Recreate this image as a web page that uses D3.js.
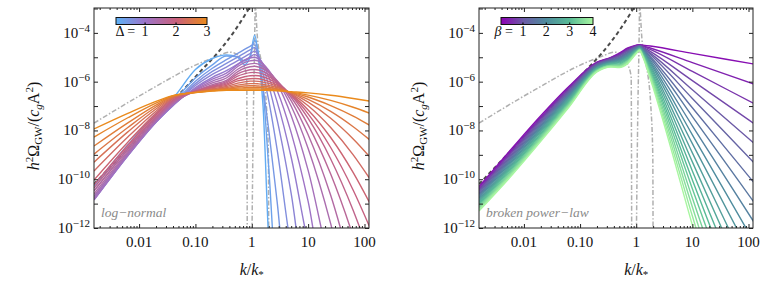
<!DOCTYPE html>
<html><head><meta charset="utf-8">
<script src="https://cdn.jsdelivr.net/npm/d3@7"></script>
<style>body{margin:0;background:#fff} svg{display:block} svg text{font-family:"Liberation Serif","Times New Roman",Times,"DejaVu Serif",serif}</style>
</head><body><svg id="c" width="763" height="288" font-family="Liberation Serif, Times New Roman, serif"></svg>
<script>
// ---------- data (log10 values) ----------
const xDomainLog = [-2.8, 2.08];
const yDomainLog = [-12, -2.98];
const xTickValues = [0.01, 0.1, 1, 10, 100];
const xTickLabels = ["0.01", "0.10", "1", "10", "100"];
const yTickExps = [-12, -10, -8, -6, -4];

// log-normal panel: Delta values and log10 Omega at shared log10 k grid
const deltaValues = [0.15,0.3,0.45,0.6,0.75,0.9,1.05,1.2,1.35,1.5,1.65,1.8,1.95,2.1,2.25,2.4,2.55,2.7,2.85,3.0];
const kGridLN = [-2.8,-2.2,-1.7,-1.37,-1.0,-0.7,-0.45,-0.25,-0.13,-0.03,0.05,0.12,0.2,0.3,0.45,0.7,1.0,1.4,1.8,2.1];
const logNormalCurves = [
 [-10.28,-8.59,-7.30,-6.6,-5.5,-5.05,-4.9,-5.0,-5.3,-5.0,-4.1,-5.0,-7.0,-12.5,-16,-16,-16,-16,-16,-16],
 [-10.48,-8.76,-7.46,-6.75,-5.85,-5.31,-4.95,-4.98,-5.15,-4.95,-4.3,-4.85,-6.3,-9.5,-14.5,-16,-16,-16,-16,-16],
 [-10.69,-8.92,-7.58,-6.85,-5.98,-5.45,-5.1,-4.84,-4.68,-4.55,-4.45,-5.12,-6.26,-7.97,-10.93,-16,-16,-16,-16,-16],
 [-10.77,-8.99,-7.64,-6.9,-6.08,-5.58,-5.25,-4.99,-4.83,-4.70,-4.6,-4.97,-5.66,-6.77,-8.79,-12.88,-16,-16,-16,-16],
 [-10.83,-9.03,-7.66,-6.92,-6.16,-5.70,-5.4,-5.14,-4.98,-4.85,-4.75,-4.96,-5.40,-6.15,-7.57,-10.60,-15.1,-16,-16,-16],
 [-10.85,-9.04,-7.67,-6.92,-6.24,-5.82,-5.55,-5.28,-5.12,-4.99,-4.88,-5.0,-5.29,-5.80,-6.83,-9.11,-12.64,-16,-16,-16],
 [-10.85,-9.03,-7.65,-6.9,-6.28,-5.90,-5.65,-5.30,-5.12,-5.03,-5.0,-5.07,-5.26,-5.61,-6.36,-8.10,-10.91,-15.7,-16,-16],
 [-10.8,-8.99,-7.62,-6.88,-6.32,-5.98,-5.75,-5.38,-5.22,-5.15,-5.12,-5.16,-5.28,-5.53,-6.07,-7.40,-9.64,-13.62,-16,-16],
 [-10.7,-8.93,-7.58,-6.85,-6.35,-6.05,-5.85,-5.49,-5.34,-5.27,-5.25,-5.28,-5.38,-5.57,-5.99,-7.01,-8.74,-11.82,-15.7,-16],
 [-10.6,-8.86,-7.54,-6.82,-6.39,-6.12,-5.95,-5.59,-5.45,-5.39,-5.37,-5.40,-5.47,-5.62,-5.96,-6.79,-8.18,-10.66,-13.82,-16],
 [-10.48,-8.78,-7.48,-6.78,-6.39,-6.16,-6.0,-5.68,-5.57,-5.51,-5.5,-5.52,-5.58,-5.71,-5.98,-6.65,-7.78,-9.79,-12.35,-14.6],
 [-10.36,-8.69,-7.43,-6.74,-6.40,-6.19,-6.05,-5.77,-5.68,-5.63,-5.62,-5.64,-5.69,-5.79,-6.02,-6.57,-7.51,-9.17,-11.28,-13.15],
 [-10.24,-8.61,-7.37,-6.7,-6.4,-6.22,-6.1,-5.88,-5.80,-5.76,-5.75,-5.76,-5.81,-5.89,-6.08,-6.54,-7.32,-8.70,-10.45,-12.0],
 [-10.03,-8.48,-7.30,-6.66,-6.41,-6.25,-6.15,-5.97,-5.91,-5.88,-5.87,-5.88,-5.92,-5.99,-6.14,-6.52,-7.16,-8.29,-9.73,-11.0],
 [-9.66,-8.27,-7.21,-6.63,-6.42,-6.29,-6.2,-6.06,-6.01,-5.98,-5.98,-5.99,-6.02,-6.07,-6.19,-6.49,-6.99,-7.88,-9.0,-10.0],
 [-9.3,-8.06,-7.12,-6.61,-6.43,-6.32,-6.25,-6.14,-6.10,-6.08,-6.08,-6.09,-6.11,-6.15,-6.24,-6.46,-6.84,-7.50,-8.35,-9.1],
 [-8.97,-7.88,-7.04,-6.59,-6.44,-6.34,-6.28,-6.21,-6.18,-6.17,-6.17,-6.18,-6.19,-6.22,-6.29,-6.45,-6.73,-7.22,-7.85,-8.4],
 [-8.64,-7.69,-6.96,-6.57,-6.44,-6.35,-6.3,-6.26,-6.25,-6.24,-6.24,-6.24,-6.25,-6.28,-6.32,-6.44,-6.63,-6.98,-7.41,-7.8],
 [-8.27,-7.48,-6.88,-6.56,-6.45,-6.37,-6.33,-6.31,-6.30,-6.30,-6.30,-6.30,-6.31,-6.32,-6.35,-6.43,-6.55,-6.77,-7.05,-7.3],
 [-7.94,-7.30,-6.81,-6.55,-6.45,-6.39,-6.35,-6.35,-6.35,-6.35,-6.35,-6.35,-6.35,-6.36,-6.37,-6.41,-6.46,-6.56,-6.69,-6.8]
];

// broken power-law panel
const betaValues = [0.2,0.4,0.6,0.8,1.0,1.2,1.4,1.6,1.8,2.0,2.2,2.4,2.6,2.8,3.0,3.2,3.4,3.6,3.8,4.0];
const kGridBPL = [-2.8,-2.2,-1.7,-1.2,-0.7,-0.45,-0.3,-0.15,0,0.06,0.12,0.25,1.0,2.1];
const brokenPLCurves = [
 [-10.30,-8.70,-7.40,-6.20,-5.20,-5.00,-4.83,-4.62,-4.50,-4.48,-4.50,-4.54,-4.84,-5.28],
 [-10.35,-8.76,-7.46,-6.24,-5.22,-5.02,-4.86,-4.65,-4.52,-4.49,-4.53,-4.62,-5.22,-6.10],
 [-10.41,-8.82,-7.51,-6.29,-5.24,-5.04,-4.89,-4.69,-4.54,-4.51,-4.55,-4.68,-5.58,-6.90],
 [-10.46,-8.87,-7.57,-6.33,-5.26,-5.06,-4.92,-4.72,-4.56,-4.52,-4.58,-4.76,-5.96,-7.72],
 [-10.51,-8.93,-7.62,-6.38,-5.28,-5.08,-4.95,-4.75,-4.57,-4.53,-4.61,-4.83,-6.33,-8.53],
 [-10.56,-8.99,-7.68,-6.42,-5.31,-5.11,-4.99,-4.79,-4.59,-4.54,-4.63,-4.89,-6.69,-9.33],
 [-10.62,-9.05,-7.73,-6.47,-5.33,-5.13,-5.02,-4.82,-4.61,-4.56,-4.66,-4.97,-7.07,-10.15],
 [-10.67,-9.11,-7.79,-6.51,-5.35,-5.15,-5.05,-4.85,-4.63,-4.57,-4.68,-5.03,-7.43,-10.95],
 [-10.72,-9.16,-7.84,-6.56,-5.37,-5.17,-5.08,-4.89,-4.65,-4.58,-4.71,-5.11,-7.81,-11.77],
 [-10.77,-9.22,-7.90,-6.60,-5.39,-5.19,-5.11,-4.92,-4.67,-4.59,-4.74,-5.18,-8.18,-12.58],
 [-10.83,-9.28,-7.95,-6.65,-5.41,-5.21,-5.14,-4.95,-4.68,-4.61,-4.76,-5.24,-8.54,-13.38],
 [-10.88,-9.34,-8.01,-6.69,-5.43,-5.23,-5.17,-4.99,-4.70,-4.62,-4.79,-5.32,-8.92,-14.20],
 [-10.93,-9.39,-8.06,-6.74,-5.45,-5.25,-5.20,-5.02,-4.72,-4.63,-4.82,-5.39,-9.29,-15.01],
 [-10.98,-9.45,-8.12,-6.78,-5.47,-5.27,-5.23,-5.05,-4.74,-4.64,-4.84,-5.46,-9.66,-15.82],
 [-11.04,-9.51,-8.17,-6.83,-5.49,-5.29,-5.27,-5.08,-4.76,-4.66,-4.87,-5.53,-10.03,-16.63],
 [-11.09,-9.57,-8.23,-6.87,-5.52,-5.32,-5.30,-5.12,-4.78,-4.67,-4.89,-5.59,-10.39,-17.43],
 [-11.14,-9.63,-8.28,-6.92,-5.54,-5.34,-5.33,-5.15,-4.80,-4.68,-4.92,-5.67,-10.77,-18.25],
 [-11.19,-9.68,-8.34,-6.96,-5.56,-5.36,-5.36,-5.18,-4.81,-4.70,-4.95,-5.74,-11.14,-19.06],
 [-11.25,-9.74,-8.39,-7.01,-5.58,-5.38,-5.39,-5.22,-4.83,-4.71,-4.97,-5.81,-11.51,-19.87],
 [-11.30,-9.80,-8.45,-7.05,-5.60,-5.40,-5.42,-5.25,-4.85,-4.72,-5.00,-5.88,-11.88,-20.68]
];

// reference curves [log10 k, log10 Omega]
const dashedRef = [[-2.8,-10.2],[-2.2,-8.75],[-1.7,-7.5],[-1.3,-6.55],[-0.9,-5.55],[-0.6,-4.8],[-0.3,-3.9],[-0.09,-3.15],[0.05,-2.6]];
const dotDashHump = [[-2.8,-7.7],[-1.81,-6.34],[-0.92,-5.24],[-0.6,-4.95],[-0.39,-4.79],[-0.25,-4.9],[-0.15,-5.3],[-0.09,-5.8],[-0.085,-8],[-0.08,-13]];
const dotDashSpike = [[0.0,-13],[0.03,-7],[0.05,-4.5],[0.062,-2.7],[0.07,-3.0],[0.1,-4.2],[0.17,-5.2],[0.26,-7],[0.295,-9],[0.301,-13]];

// colour stops
const deltaColorStops = [0.06, 1, 2, 3];
const deltaColors = ["#5db2f7", "#9c74c9", "#c8607c", "#ea8a1c"];
const betaColorStops = [0.06, 1, 2, 3, 4];
const betaColors = ["#8c00b4", "#6c5aa6", "#4f8c9e", "#58bb96", "#a8f6a0"];

// ---------- drawing ----------
const FONT = "Liberation Serif, Times New Roman, Times, serif";
const svg = d3.select("#c");
const defs = svg.append("defs");

function panel(cfg) {
  const {id, x0, x1, y0, y1} = cfg;
  const x = d3.scaleLog().domain(xDomainLog.map(v => 10 ** v)).range([x0, x1]);
  const y = d3.scaleLog().domain(yDomainLog.map(v => 10 ** v)).range([y1, y0]);
  defs.append("clipPath").attr("id", id + "clip").append("rect")
    .attr("x", x0).attr("y", y0).attr("width", x1 - x0).attr("height", y1 - y0);
  const g = svg.append("g").attr("font-family", FONT);
  const plot = g.append("g").attr("clip-path", `url(#${id}clip)`);
  const line = d3.line().x(d => x(10 ** d[0])).y(d => y(10 ** d[1])).curve(d3.curveMonotoneX);

  // reference curves
  plot.append("path").datum(dotDashHump).attr("d", line).attr("fill", "none")
    .attr("stroke", "#b0b0b0").attr("stroke-width", 1.5).attr("stroke-dasharray", "5,2,1.5,2");
  plot.append("path").datum(dotDashSpike).attr("d", line).attr("fill", "none")
    .attr("stroke", "#b0b0b0").attr("stroke-width", 1.5).attr("stroke-dasharray", "5,2,1.5,2");
  plot.append("path").datum(dashedRef).attr("d", line).attr("fill", "none")
    .attr("stroke", "#4a4a4a").attr("stroke-width", 2).attr("stroke-dasharray", "4,3");

  const color = d3.scaleLinear().domain(cfg.stops).range(cfg.colors).interpolate(d3.interpolateRgb).clamp(true);
  cfg.curves.forEach((vals, i) => {
    const pts = cfg.grid.map((k, j) => [k, vals[j]]);
    plot.append("path").datum(pts).attr("d", line).attr("fill", "none")
      .attr("stroke", color(cfg.params[i])).attr("stroke-width", 1.4);
  });

  // frame
  g.append("rect").attr("x", x0).attr("y", y0).attr("width", x1 - x0).attr("height", y1 - y0)
    .attr("fill", "none").attr("stroke", "#222").attr("stroke-width", 1);

  // ticks
  const minor = [];
  for (let e = -3; e <= 2; e++) for (let m = 2; m <= 9; m++) {
    const v = m * 10 ** e; if (v > 10 ** xDomainLog[0] && v < 10 ** xDomainLog[1]) minor.push(v);
  }
  const majorX = [0.001, 0.01, 0.1, 1, 10, 100].filter(v => v > 10 ** xDomainLog[0]);
  const yMajor = d3.range(-12, -2).map(e => 10 ** e);
  const tickStyle = sel => { sel.select(".domain").remove(); sel.selectAll("line").attr("stroke", "#222"); sel.selectAll("text").remove(); };
  g.append("g").attr("transform", `translate(0,${y1})`).call(d3.axisBottom(x).tickValues(majorX).tickSizeInner(-4).tickSizeOuter(0)).call(tickStyle);
  g.append("g").attr("transform", `translate(0,${y1})`).call(d3.axisBottom(x).tickValues(minor).tickSizeInner(-2).tickSizeOuter(0)).call(tickStyle);
  g.append("g").attr("transform", `translate(0,${y0})`).call(d3.axisTop(x).tickValues(majorX).tickSizeInner(-4).tickSizeOuter(0)).call(tickStyle);
  g.append("g").attr("transform", `translate(0,${y0})`).call(d3.axisTop(x).tickValues(minor).tickSizeInner(-2).tickSizeOuter(0)).call(tickStyle);
  g.append("g").attr("transform", `translate(${x0},0)`).call(d3.axisLeft(y).tickValues(yMajor).tickSizeInner(-4).tickSizeOuter(0)).call(tickStyle);
  g.append("g").attr("transform", `translate(${x1},0)`).call(d3.axisRight(y).tickValues(yMajor).tickSizeInner(-4).tickSizeOuter(0)).call(tickStyle);

  // x tick labels
  xTickValues.forEach((v, i) => {
    g.append("text").attr("x", x(v)).attr("y", y1 + 19).attr("text-anchor", "middle")
      .attr("font-size", 15).attr("fill", "#111").text(xTickLabels[i]);
  });
  // y tick labels
  yTickExps.forEach(e => {
    const t = g.append("text").attr("x", x0 - 4).attr("y", y(10 ** e) + 5).attr("text-anchor", "end")
      .attr("font-size", 15).attr("fill", "#111");
    t.append("tspan").text("10");
    t.append("tspan").attr("dy", -6).attr("font-size", 11).text("\u2212" + Math.abs(e));
  });
  // x label
  const xl = g.append("text").attr("x", x(1)).attr("y", 275).attr("text-anchor", "middle")
    .attr("font-size", 16).attr("fill", "#111");
  xl.append("tspan").attr("font-style", "italic").text("k");
  xl.append("tspan").text("/");
  xl.append("tspan").attr("font-style", "italic").text("k");
  xl.append("tspan").attr("dy", 3).attr("font-size", 11).text("*");
  // y label
  const yl = g.append("text").attr("transform", `translate(${x0 - 55},${(y0 + y1) / 2 + 8}) rotate(-90)`)
    .attr("text-anchor", "middle").attr("font-size", 16).attr("fill", "#111");
  yl.append("tspan").attr("font-style", "italic").text("h");
  yl.append("tspan").attr("dy", -6).attr("font-size", 11).text("2");
  yl.append("tspan").attr("dy", 6).text("\u03A9");
  yl.append("tspan").attr("dy", 3).attr("font-size", 11).text("GW");
  yl.append("tspan").attr("dy", -3).text("/(");
  yl.append("tspan").attr("font-style", "italic").text("c");
  yl.append("tspan").attr("dy", 3).attr("font-size", 11).attr("font-style", "italic").text("g");
  yl.append("tspan").attr("dy", -3).text("A");
  yl.append("tspan").attr("dy", -6).attr("font-size", 11).text("2");
  yl.append("tspan").attr("dy", 6).text(")");

  // annotation
  g.append("text").attr("x", x0 + 7).attr("y", y1 - 11).attr("font-size", 13.5).attr("font-style", "italic")
    .attr("fill", "#8a8a8a").text(cfg.note);

  // colour bar
  const cb = cfg.cb;
  const cbx = d3.scaleLinear().domain([cfg.stops[0], cfg.stops[cfg.stops.length - 1]]).range([cb.x0, cb.x1]);
  const grad = defs.append("linearGradient").attr("id", id + "grad");
  cfg.stops.forEach((s, i) => grad.append("stop")
    .attr("offset", (cbx(s) - cb.x0) / (cb.x1 - cb.x0)).attr("stop-color", cfg.colors[i]));
  g.append("rect").attr("x", cb.x0).attr("y", cb.y).attr("width", cb.x1 - cb.x0).attr("height", 7)
    .attr("fill", `url(#${id}grad)`).attr("stroke", "#111").attr("stroke-width", 1);
  cb.ticks.forEach(v => {
    if (v < cfg.stops[cfg.stops.length - 1]) g.append("line").attr("x1", cbx(v)).attr("x2", cbx(v))
      .attr("y1", cb.y + 7).attr("y2", cb.y + 5).attr("stroke", "#111").attr("stroke-width", 1.2);
    g.append("text").attr("x", cbx(v)).attr("y", cb.y + 18).attr("text-anchor", "middle")
      .attr("font-size", 14).attr("fill", "#111").text(v);
  });
  const sym = g.append("text").attr("x", cbx(1) - 10).attr("y", cb.y + 18).attr("text-anchor", "end")
    .attr("font-size", 14).attr("fill", "#111");
  sym.append("tspan").attr("font-style", cfg.symItalic ? "italic" : "normal").text(cfg.sym);
  sym.append("tspan").text(" =");
}

panel({id: "ln", x0: 94, x1: 369, y0: 8, y1: 228, grid: kGridLN, curves: logNormalCurves,
  params: deltaValues, stops: deltaColorStops, colors: deltaColors, note: "log\u2212normal",
  sym: "\u0394", symItalic: false, cb: {x0: 116, x1: 207, y: 17.5, ticks: [1, 2, 3]}});
panel({id: "bpl", x0: 479, x1: 753, y0: 8, y1: 228, grid: kGridBPL, curves: brokenPLCurves,
  params: betaValues, stops: betaColorStops, colors: betaColors, note: "broken power\u2212law",
  sym: "\u03B2", symItalic: true, cb: {x0: 501, x1: 593, y: 17.5, ticks: [1, 2, 3, 4]}});
</script></body></html>
